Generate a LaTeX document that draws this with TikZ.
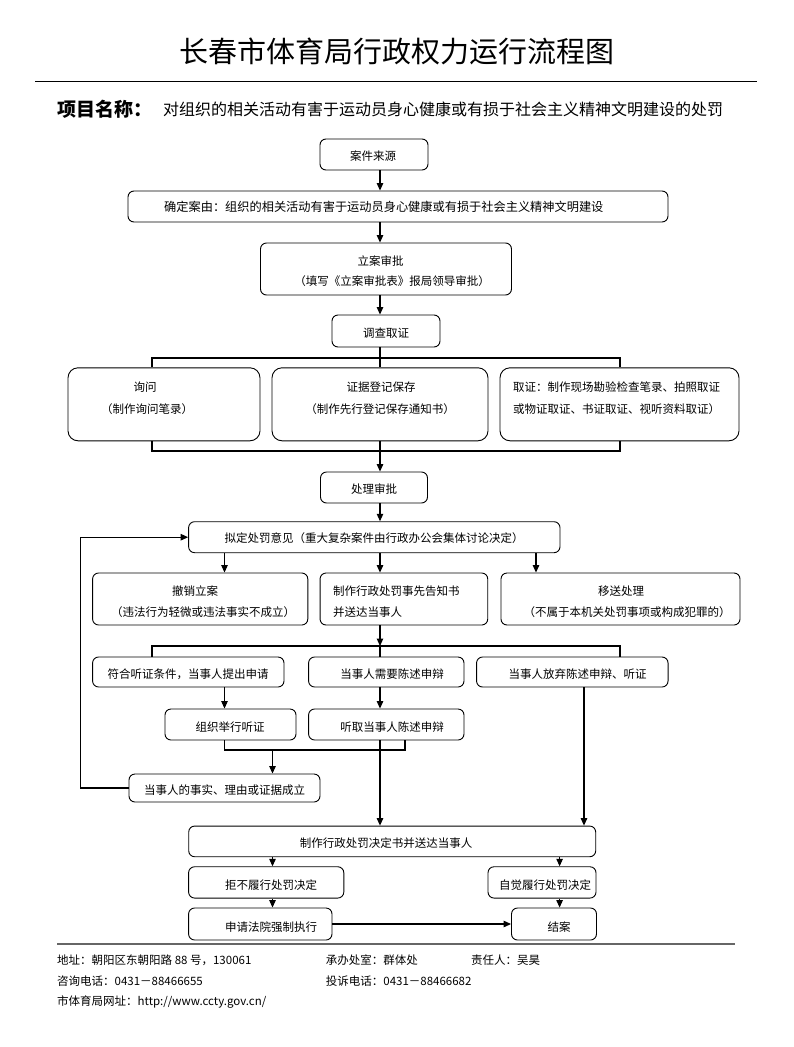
\documentclass[tikz,border=0pt]{standalone}
\usepackage{fontspec}
\setmainfont{Noto Sans CJK SC}
\usetikzlibrary{arrows.meta}
\tikzset{
  box/.style={draw, line width=0.9pt, rounded corners=6pt, inner sep=0pt},
  tallbox/.style={box, rounded corners=10pt},
  txt/.style={inner sep=0pt, font=\fontsize{11.5}{13}\selectfont},
  conn/.style={line width=1.1pt},
  arr/.style={conn, -{Triangle[length=7.5pt,width=6.5pt]}},
}
\begin{document}
\begin{tikzpicture}[x=1pt,y=-1pt]
\useasboundingbox[fill=white] (0,0) rectangle (793,1047);
% axis coordinates
\coordinate (ax) at (380,0);
\coordinate (xl) at (152,0);
\coordinate (xr) at (620,0);
\coordinate (xa) at (224.5,0);
\coordinate (xc) at (536,0);
\coordinate (xb) at (272.5,0);
\coordinate (xd) at (559.6,0);
\coordinate (xf) at (584,0);
\coordinate (xg) at (405,0);
\coordinate (xloop) at (80.5,0);

% title and header
\node[inner sep=0pt, font=\fontsize{29}{32}\selectfont] (title) at (396.5,51) {长春市体育局行政权力运行流程图};
\coordinate (hl1) at (35,81.7);
\coordinate (hl2) at (757,81.7);
\draw[line width=1.3pt] (hl1) -- (hl2);
\node[inner sep=0pt, anchor=west, font=\fontsize{19}{21}\bfseries\selectfont] (pname) at (57,109) {项目名称：};
\node[inner sep=0pt, anchor=west, font=\fontsize{16}{18}\selectfont] (ptext) at (163,109) {对组织的相关活动有害于运动员身心健康或有损于社会主义精神文明建设的处罚};

% boxes
\node[box, minimum width=108pt, minimum height=31pt] (b1) at (374,154.5) {};
\node[box, minimum width=540pt, minimum height=31pt] (b2) at (398,206.5) {};
\node[box, minimum width=251pt, minimum height=52pt] (b3) at (386,269) {};
\node[box, minimum width=108pt, minimum height=32pt] (b4) at (386,331) {};
\node[tallbox, minimum width=192pt, minimum height=73pt] (b5) at (164,404.3) {};
\node[tallbox, minimum width=216pt, minimum height=73pt] (b6) at (380,404.3) {};
\node[tallbox, minimum width=239pt, minimum height=73pt] (b7) at (619.5,404.3) {};
\node[box, minimum width=107pt, minimum height=31pt] (b8) at (374,487.5) {};
\node[box, minimum width=371.4pt, minimum height=31pt] (b9) at (374.3,537.2) {};
\node[box, minimum width=215.2pt, minimum height=52pt] (b10) at (200.2,599) {};
\node[box, minimum width=167.7pt, minimum height=52pt] (b11) at (403.9,599) {};
\node[box, minimum width=239pt, minimum height=52pt] (b12) at (620.5,599) {};
\node[box, minimum width=191.4pt, minimum height=30pt] (b13) at (188.3,672) {};
\node[box, minimum width=155.4pt, minimum height=30pt] (b14) at (386.3,672) {};
\node[box, minimum width=191.5pt, minimum height=30pt] (b15) at (572.3,672) {};
\node[box, minimum width=131pt, minimum height=31pt] (b16) at (230.5,724.5) {};
\node[box, minimum width=155.4pt, minimum height=31pt] (b17) at (386.3,724.5) {};
\node[box, minimum width=191pt, minimum height=28pt] (b18) at (224.5,788) {};
\node[box, minimum width=407pt, minimum height=30.7pt] (b19) at (392.2,841.4) {};
\node[box, minimum width=155.2pt, minimum height=31.3pt] (b20) at (266.2,882.4) {};
\node[box, minimum width=108pt, minimum height=31.3pt] (b21) at (542,882.4) {};
\node[box, minimum width=143.4pt, minimum height=32pt] (b22) at (260.3,924) {};
\node[box, minimum width=85pt, minimum height=32pt] (b23) at (554,924) {};

% texts
\node[txt] (t1) at (373,156) {案件来源};
\node[txt, anchor=west, font=\fontsize{12.2}{14}\selectfont] (t2) at (164,207) {确定案由：组织的相关活动有害于运动员身心健康或有损于社会主义精神文明建设};
\node[txt] (t3a) at (380.5,261.5) {立案审批};
\node[txt] (t3b) at (392,281) {（填写《立案审批表》报局领导审批）};
\node[txt] (t4) at (386,333) {调查取证};
\node[txt] (t5a) at (145,387) {询问};
\node[txt] (t5b) at (147,409) {（制作询问笔录）};
\node[txt] (t6a) at (381,387) {证据登记保存};
\node[txt] (t6b) at (380,409) {（制作先行登记保存通知书）};
\node[txt, anchor=west] (t7a) at (513,387) {取证：制作现场勘验检查笔录、拍照取证};
\node[txt, anchor=west] (t7b) at (513,409) {或物证取证、书证取证、视听资料取证）};
\node[txt] (t8) at (374,489) {处理审批};
\node[txt] (t9) at (374,538) {拟定处罚意见（重大复杂案件由行政办公会集体讨论决定）};
\node[txt] (t10a) at (195,591) {撤销立案};
\node[txt] (t10b) at (203,612) {（违法行为轻微或违法事实不成立）};
\node[txt, anchor=west] (t11a) at (333,591) {制作行政处罚事先告知书};
\node[txt, anchor=west] (t11b) at (333,612) {并送达当事人};
\node[txt] (t12a) at (621,591) {移送处理};
\node[txt] (t12b) at (627,612) {（不属于本机关处罚事项或构成犯罪的）};
\node[txt] (t13) at (188,674) {符合听证条件，当事人提出申请};
\node[txt] (t14) at (392,674) {当事人需要陈述申辩};
\node[txt] (t15) at (577.5,674) {当事人放弃陈述申辩、听证};
\node[txt] (t16) at (230,727) {组织举行听证};
\node[txt] (t17) at (392,727) {听取当事人陈述申辩};
\node[txt] (t18) at (224.5,790) {当事人的事实、理由或证据成立};
\node[txt] (t19) at (386,843) {制作行政处罚决定书并送达当事人};
\node[txt] (t20) at (271,885) {拒不履行处罚决定};
\node[txt, anchor=west] (t21) at (499,885) {自觉履行处罚决定};
\node[txt] (t22) at (271,927) {申请法院强制执行};
\node[txt] (t23) at (559,927) {结案};

% connectors
\draw[arr] (b1.south -| ax) -- (b2.north -| ax);
\draw[arr] (b2.south -| ax) -- (b3.north -| ax);
\draw[arr] (b3.south -| ax) -- (b4.north -| ax);
% bracket to three evidence boxes
\coordinate (br1) at (0,358);
\draw[conn] (b4.south -| ax) -- (b6.north -| ax);
\draw[conn] (b5.north -| xl) -- (br1 -| xl) -- (br1 -| xr) -- (b7.north -| xr);
% bracket from three boxes
\coordinate (br2) at (0,451);
\draw[conn] (b5.south -| xl) -- (br2 -| xl) -- (br2 -| xr) -- (b7.south -| xr);
\draw[arr] (b6.south -| ax) -- (b8.north -| ax);
\draw[arr] (b8.south -| ax) -- (b9.north -| ax);
\draw[arr] (b9.south -| xa) -- (b10.north -| xa);
\draw[arr] (b9.south -| ax) -- (b11.north -| ax);
\draw[arr] (b9.south -| xc) -- (b12.north -| xc);
% bracket after notice
\coordinate (br3) at (0,646);
\draw[arr] (b11.south -| ax) -- (br3 -| ax);
\draw[conn] (b13.north -| xl) -- (br3 -| xl) -- (br3 -| xr) -- (b15.north -| xr);
\draw[conn] (br3 -| ax) -- (b14.north -| ax);
\draw[arr] (b13.south -| xa) -- (b16.north -| xa);
\draw[arr] (b14.south -| ax) -- (b17.north -| ax);
% bracket hearing
\coordinate (br4) at (0,750);
\draw[conn] (b16.south -| xa) -- (br4 -| xa) -- (br4 -| xg) -- (b17.south -| xg);
\draw[arr] (br4 -| xb) -- (b18.north -| xb);
\draw[arr] (b17.south -| ax) -- (b19.north -| ax);
\draw[arr] (b15.south -| xf) -- (b19.north -| xf);
% feedback loop
\draw[arr] (b18.west) -- (b18.west -| xloop) -- (b9.west -| xloop) -- (b9.west);
% decision branches
\draw[arr] (b19.south -| xb) -- (b20.north -| xb);
\draw[arr] (b19.south -| xd) -- (b21.north -| xd);
\draw[arr] (b20.south -| xb) -- (b22.north -| xb);
\draw[arr] (b21.south -| xd) -- (b23.north -| xd);
\draw[arr] (b22.east) -- (b23.west);

% footer
\coordinate (fl1) at (57,944);
\coordinate (fl2) at (735,944);
\draw[line width=2.4pt, gray!80!black] (fl1) -- (fl2);
\node[txt, anchor=west] (f1) at (57,960) {地址：朝阳区东朝阳路 88 号，130061};
\node[txt, anchor=west] (f2) at (325.7,960) {承办处室：群体处};
\node[txt, anchor=west] (f3) at (471,960) {责任人：吴昊};
\node[txt, anchor=west] (f4) at (57,981) {咨询电话：0431－88466655};
\node[txt, anchor=west] (f5) at (325.7,981) {投诉电话：0431－88466682};
\node[txt, anchor=west] (f6) at (57,1002) {市体育局网址：http://www.ccty.gov.cn/};
\end{tikzpicture}
\end{document}
